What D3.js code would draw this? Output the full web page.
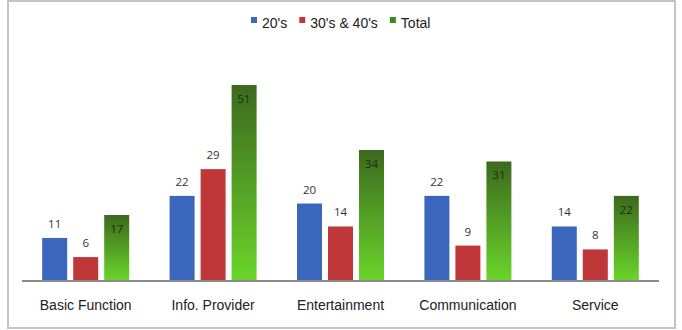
<!DOCTYPE html>
<html>
<head>
<meta charset="utf-8">
<script src="https://cdn.jsdelivr.net/npm/d3@7"></script>
<style>
body{margin:0;background:#fff;}
svg{display:block;font-family:"Liberation Sans",Arial,sans-serif;}
</style>
</head>
<body>
<svg id="chart" width="682" height="330"></svg>
<script>
var categories=["Basic Function","Info. Provider","Entertainment","Communication","Service"];
var seriesNames=["20's","30's & 40's","Total"];
var twenties=[11,22,20,22,14];
var thirtiesForties=[6,29,14,9,8];
var total=[17,51,34,31,22];

var width=682,height=330;
var svg=d3.select("#chart");

// gradient for total bars
var defs=svg.append("defs");
var grad=defs.append("linearGradient").attr("id","greenGrad")
	.attr("x1",0).attr("y1",0).attr("x2",0).attr("y2",1);
grad.append("stop").attr("offset","0%").attr("stop-color","#3c691e");
grad.append("stop").attr("offset","100%").attr("stop-color","#6ad42a");

var fills=["#3a66bc","#c0373a","url(#greenGrad)"];
var legendColors=["#3a66bc","#c0373a","#3f8a1c"];

// frame
svg.append("rect").attr("x",8).attr("y",1).attr("width",667).attr("height",327)
	.attr("fill","none").attr("stroke","#c4c4c4").attr("stroke-width",2);

var x0=d3.scaleBand().domain(categories).range([22,659]).paddingInner(0.317).paddingOuter(0.1585);
var x1=d3.scaleBand().domain(seriesNames).range([0,x0.bandwidth()]).paddingInner(0.194).paddingOuter(0);
var y=d3.scaleLinear().domain([0,60]).range([280,50.6]);

var rows=categories.map(function(c,i){
	return {cat:c,vals:[twenties[i],thirtiesForties[i],total[i]]};
});

var groups=svg.selectAll("g.grp").data(rows).enter().append("g")
	.attr("class","grp")
	.attr("transform",function(d){return "translate("+x0(d.cat)+",0)";});

groups.selectAll("rect").data(function(d){return d.vals;}).enter().append("rect")
	.attr("x",function(d,i){return x1(seriesNames[i]);})
	.attr("y",function(d){return y(d);})
	.attr("width",x1.bandwidth())
	.attr("height",function(d){return y(0)-y(d);})
	.attr("fill",function(d,i){return fills[i];});

groups.selectAll("text.val").data(function(d){return d.vals;}).enter().append("text")
	.attr("class","val")
	.attr("x",function(d,i){return x1(seriesNames[i])+x1.bandwidth()/2;})
	.attr("y",function(d,i){return i==2 ? y(d)+18 : y(d)-10;})
	.attr("text-anchor","middle")
	.style("font-family","'Open Sans',sans-serif")
	.style("font-size","11.5px")
	.attr("fill",function(d,i){return i==2 ? "#1c2a12" : "#333";})
	.text(function(d){return d;});

// axis baseline
svg.append("line").attr("x1",22).attr("x2",659).attr("y1",281).attr("y2",281)
	.attr("stroke","#8a8a8a").attr("stroke-width",2);

// category labels
svg.selectAll("text.cat").data(categories).enter().append("text")
	.attr("class","cat")
	.attr("x",function(d){return x0(d)+x0.bandwidth()/2;})
	.attr("y",310)
	.attr("text-anchor","middle")
	.style("font-size","14px")
	.attr("fill","#222")
	.text(function(d){return d;});

// legend
var lx=251;
seriesNames.forEach(function(name,i){
	svg.append("rect").attr("x",lx).attr("y",17).attr("width",6).attr("height",6)
		.attr("fill",legendColors[i]);
	var t=svg.append("text").attr("x",lx+11).attr("y",28)
		.style("font-size","14px").attr("fill","#222").text(name);
	lx+=11+t.node().getComputedTextLength()+12;
});
</script>
</body>
</html>
